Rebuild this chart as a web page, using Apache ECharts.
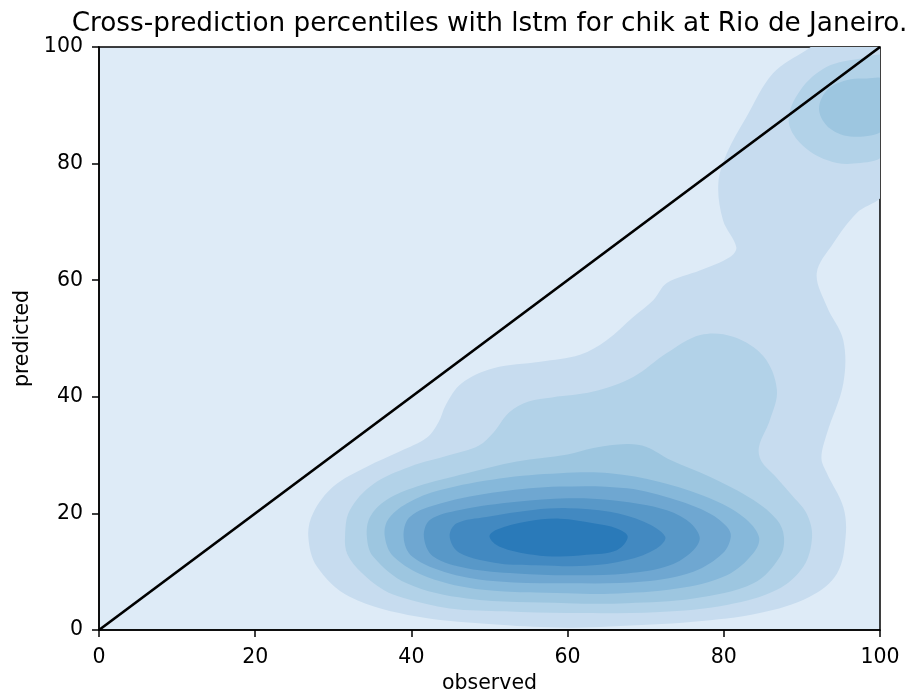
<!DOCTYPE html>
<html>
<head>
<meta charset="utf-8">
<script src="https://cdn.jsdelivr.net/npm/echarts@6/dist/echarts.min.js"></script>
<style>html,body{margin:0;padding:0;background:#fff}#c{width:911px;height:700px}</style>
</head>
<body>
<div id="c"></div>
<script>
// ---- data (percentile coordinates) ----
const titleText = 'Cross-prediction percentiles with lstm for chik at Rio de Janeiro.';
const xName = 'observed';
const yName = 'predicted';
const axisTicks = [0, 20, 40, 60, 80, 100];
const identityLine = [[0, 0], [100, 100]];

// KDE contour levels, outermost to innermost
const level1 = [[26.8,16],[27.4,20],[30,24.6],[34.3,28],[38.5,30.6],[42,33],[43.5,35.7],[44.4,38.6],[46.4,42.3],[50.5,44.9],[56.5,46],[61.6,47.2],[65,49.7],[68.4,53.7],[71,56.6],[72.7,59.5],[77,61.7],[80.8,64],[81.6,65.7],[79.9,70.3],[79.3,76.6],[80.4,81.8],[82.9,88],[86.3,95.5],[90.6,99.5],[92,100.5],[100.5,100.5],[100.5,75.2],[97,71.5],[94,66.3],[91.9,61.2],[93.2,55.5],[95.3,49.7],[95.3,42.3],[93.2,33.7],[92.5,29.5],[93.2,26.9],[95.3,21.1],[95.6,16],[94.5,9.7],[91,5.7],[84.6,2.9],[76.1,1.4],[65.4,0.6],[59.9,0.4],[51.3,0.9],[40.7,2.3],[32.1,5.7],[27.9,10.9]];
const level2main = [[31.5,16],[32.1,20.5],[35.1,25],[39.8,28],[44.9,30],[48.6,31.6],[50.6,34],[52.5,37.3],[55,39.2],[58,39.9],[63.3,40.9],[68.4,43.4],[72.7,47.5],[77,50.6],[81.2,50.3],[85.1,46.9],[86.8,41.2],[85.9,36],[84.5,31.4],[84.8,29],[86.5,26.5],[88.8,23],[90.6,20],[91.3,16],[90.2,10.9],[86.8,6.9],[80.4,4.3],[71.8,3.1],[60,2.9],[52,3.2],[44.9,3.7],[39,5.5],[36.4,6.9],[33.5,10],[31.8,13]];
const level2top = [[88.3,87.5],[89.8,92.6],[93.2,96.6],[97.4,98],[100.5,98.2],[100.5,81.8],[96.6,80],[93.2,80.6],[89.8,83.5]];
const level3main = [[34.3,16],[34.7,19.4],[36.8,22.3],[40.7,24.6],[47.1,26.9],[53.5,28.9],[60,30.1],[63.3,31.2],[67.6,31.9],[70.1,31.4],[73.1,29.2],[78.2,26.3],[83.8,22.3],[86.8,18.9],[87.7,16],[87.2,12.6],[83.8,8],[76.1,5.4],[67.6,4.6],[60,4.6],[47.1,5.4],[39.4,8],[35.1,12.6]];
const level3top = [[92.2,89.2],[93.2,92.6],[95.7,94.3],[98.3,94.6],[100.5,94.3],[100.5,86],[96.6,84.6],[93.6,86]];
const level4 = [[36.6,16],[37,18.9],[39.4,21.7],[43.7,24],[51.3,26],[59,26.9],[65.4,26.9],[71.8,25.4],[78.2,22.6],[82.5,19.4],[84.5,16],[83.8,13.2],[80.4,9.4],[74,7.1],[65.4,6.2],[60,6.3],[49.2,6.9],[42,9.1],[37.7,12.6]];
const level5 = [[39,16],[39.8,19.4],[43.7,21.7],[51.3,23.7],[59,24.6],[67.6,24.3],[73.9,22.3],[78.2,20],[80.4,17.7],[80.9,16],[79.9,13.2],[76.1,10],[69.7,8.3],[60,8],[51.3,8.3],[44.9,9.7],[40.1,12.6]];
const level6 = [[41.6,16],[42.4,18.9],[46.2,20.6],[53.5,22],[60,22.6],[65.4,22.3],[71.8,20.9],[75.2,18.9],[76.9,16],[76.1,13.7],[73.1,11.1],[67.6,9.7],[60,9.4],[53.5,9.7],[47.1,10.6],[42.8,12.6]];
const level7 = [[44.9,16],[45.8,18.3],[49.6,19.4],[55.6,20.6],[60,20.9],[65.4,20.3],[69.7,18.6],[72.5,16],[71.4,14],[67.6,12],[62.4,11],[56,11.1],[51.3,11.4],[46.2,13.2]];
const level8 = [[50,16],[50.9,17.2],[54.8,18.6],[59,19.1],[63.3,18.3],[66.3,17.4],[67.7,16],[66.3,13.7],[62.4,12.9],[59,12.6],[55.6,12.9],[51.3,14.3]];

const baseColor = '#deebf7';
const levelColors = ['#c7dcef','#b2d2e8','#9dc6e0','#86b8da','#6fa7d1','#5898c8','#4289c1','#2a7ab9'];

const contours = [
  {pts: level1, lvl: 0},
  {pts: level2main, lvl: 1},
  {pts: level2top, lvl: 1},
  {pts: level3main, lvl: 2},
  {pts: level3top, lvl: 2},
  {pts: level4, lvl: 3},
  {pts: level5, lvl: 4},
  {pts: level6, lvl: 5},
  {pts: level7, lvl: 6},
  {pts: level8, lvl: 7}
];

const FONT = 'DejaVu Sans';
const chart = echarts.init(document.getElementById('c'), null, {renderer: 'canvas'});

function renderContour(params, api) {
  const c = contours[params.dataIndex];
  const pts = c.pts.map(p => api.coord(p));
  return {
    type: 'polygon',
    shape: {points: pts, smooth: 0.35},
    style: {fill: levelColors[c.lvl], stroke: null}
  };
}

const axisCommon = {
  type: 'value', min: axisTicks[0], max: axisTicks[axisTicks.length - 1], interval: axisTicks[1] - axisTicks[0],
  splitLine: {show: false},
  axisLine: {show: true, onZero: false, lineStyle: {color: '#000', width: 1.5}},
  axisTick: {show: true, inside: false, length: 7, lineStyle: {color: '#000', width: 1.5}},
  nameLocation: 'middle',
  nameTextStyle: {color: '#000', fontSize: 20.5, fontFamily: FONT}
};

chart.setOption({
  animation: false,
  backgroundColor: '#fff',
  graphic: [{
    type: 'text', x: 489.5, y: 24,
    style: {text: titleText, fill: '#000', fontSize: 26.3, fontFamily: FONT, align: 'center', verticalAlign: 'middle'}
  }],
  grid: {left: 99, right: 31, top: 47, bottom: 70, show: true, backgroundColor: baseColor, borderColor: '#000', borderWidth: 1.5},
  xAxis: Object.assign({}, axisCommon, {
    name: xName, nameGap: 41,
    axisLabel: {color: '#000', fontSize: 20.5, fontFamily: FONT, margin: 17}
  }),
  yAxis: Object.assign({}, axisCommon, {
    name: yName, nameGap: 62, nameRotate: 90,
    axisLabel: {color: '#000', fontSize: 20.5, fontFamily: FONT, margin: 16}
  }),
  series: [
    {
      type: 'custom', renderItem: renderContour, clip: true, silent: true, z: 1,
      data: contours.map((c, i) => [i, c.lvl])
    },
    {
      type: 'line', data: identityLine, showSymbol: false, symbol: 'none', silent: true, z: 3,
      lineStyle: {color: '#000', width: 2.7}
    }
  ]
});
</script>
</body>
</html>
